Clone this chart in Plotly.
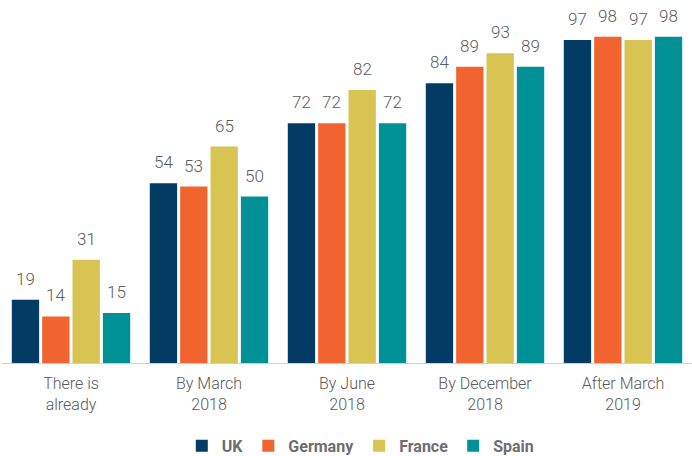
import plotly.graph_objects as go

FAMILY = "Roboto"

categories = ["There is<br>already", "By March<br>2018", "By June<br>2018", "By December<br>2018", "After March<br>2019"]
countries = ["UK", "Germany", "France", "Spain"]
uk = [19, 54, 72, 84, 97]
germany = [14, 53, 72, 89, 98]
france = [31, 65, 82, 93, 97]
spain = [15, 50, 72, 89, 98]
colors = ["#023b64", "#f2642f", "#d8c453", "#009197"]

BARGAP = 0.12
GROUPGAP = 0.1

fig = go.Figure()
series = [uk, germany, france, spain]
for name, vals, col in zip(countries, series, colors):
    fig.add_trace(go.Bar(
        x=list(range(len(categories))), y=vals, name=name,
        marker=dict(color=col, line=dict(width=0)),
        cliponaxis=False,
    ))

# value labels above bars, a bit further off than plotly's built-in outside text
slot = (1 - BARGAP) / len(series)
for k, vals in enumerate(series):
    off = -(1 - BARGAP) / 2 + slot * (k + 0.5)
    for i, v in enumerate(vals):
        fig.add_annotation(x=i + off, y=v, text=str(v), showarrow=False,
                           yanchor="bottom", yshift=9,
                           font=dict(family=FAMILY, size=17, color="#5b5c5e", weight=300))

fig.update_layout(
    width=692, height=456,
    barmode="group", bargap=BARGAP, bargroupgap=GROUPGAP,
    paper_bgcolor="white", plot_bgcolor="white",
    margin=dict(l=2, r=0, t=30, b=93, autoexpand=False),
    font=dict(family=FAMILY, color="#58595b"),
    xaxis=dict(showline=True, linecolor="#d0d0d0", linewidth=1, ticks="", automargin=False,
               tickmode="array", tickvals=list(range(len(categories))), ticktext=categories,
               range=[-0.5, len(categories) - 0.5], ticklabelstandoff=6,
               tickfont=dict(size=16, color="#58595b", weight=300)),
    yaxis=dict(range=[0, 100], visible=False, showgrid=False, automargin=False),
    legend=dict(orientation="h", x=0.52, xanchor="center", yref="container", y=0.022, yanchor="middle",
                font=dict(family=FAMILY, size=16, color="#6d6e71", weight="bold"),
                itemwidth=30, tracegroupgap=0),
    showlegend=True,
)

# page has a default body margin; drop it so the figure fills the window
fig.write_html("out.html", config={"displayModeBar": False},
               post_script="document.body.style.margin='0';")
